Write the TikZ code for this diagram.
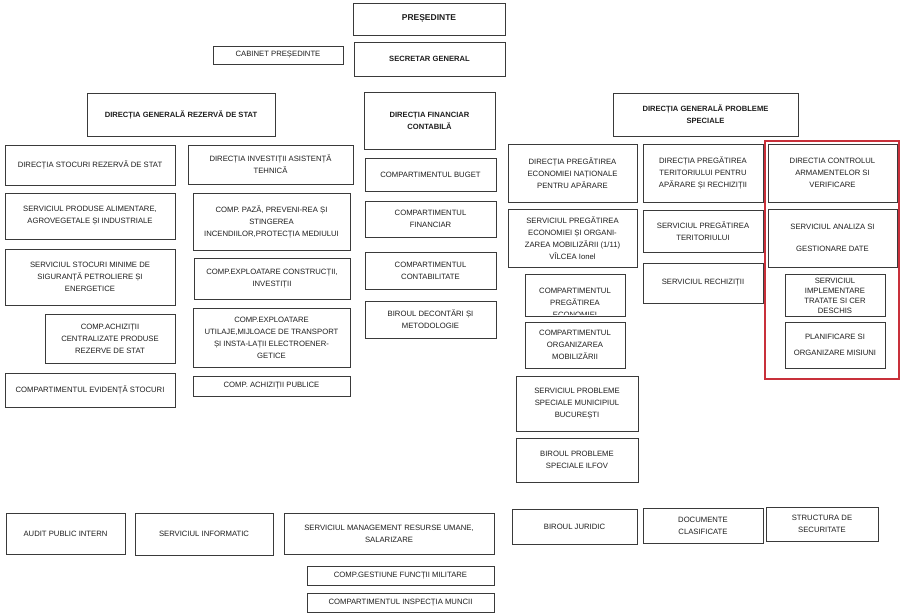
\documentclass[tikz,border=0pt]{standalone}
\usepackage{fontspec}
\setmainfont{Liberation Sans}
\definecolor{boxline}{HTML}{3A3A3A}
\definecolor{boxred}{HTML}{C8303A}
\definecolor{boxtext}{HTML}{1E1E1E}
\tikzset{
  unit/.style={draw=boxline, line width=0.9pt, inner sep=0pt, align=center,
    text=boxtext, font=\fontsize{7.7}{12}\selectfont},
  headunit/.style={unit, font=\bfseries\fontsize{7.6}{12}\selectfont}
}

\begin{document}
\begin{tikzpicture}[x=1pt,y=-1pt]
\useasboundingbox (0,0) rectangle (900,615);

% conducere
\node[headunit, minimum width=152, minimum height=32, font=\bfseries\fontsize{8.5}{12}\selectfont] (pres) at (429,19) {PREȘEDINTE};
\node[unit, minimum width=130, minimum height=18] (cab) at (278,55) {CABINET PREȘEDINTE};
\node[headunit, minimum width=151, minimum height=34] (secgen) at (429.5,59) {SECRETAR GENERAL};

% directia generala rezerva de stat
\node[headunit, minimum width=188, minimum height=43] (dgrs) at (181,114.5) {DIRECȚIA GENERALĂ REZERVĂ DE STAT};
\node[unit, minimum width=170, minimum height=40] (dsrs) at (90,165) {DIRECȚIA STOCURI REZERVĂ DE STAT};
\node[unit, minimum width=165, minimum height=39] (dinv) at (270.5,164.5) {DIRECȚIA INVESTIȚII ASISTENȚĂ\\TEHNICĂ};
\node[unit, minimum width=170, minimum height=46] (spa) at (90,216) {SERVICIUL PRODUSE ALIMENTARE,\\AGROVEGETALE ȘI INDUSTRIALE};
\node[unit, minimum width=157, minimum height=57] (cpaza) at (271.5,221.5) {COMP. PAZĂ, PREVENI-REA ȘI\\STINGEREA\\INCENDIILOR,PROTECȚIA MEDIULUI};
\node[unit, minimum width=170, minimum height=56] (ssm) at (90,277) {SERVICIUL STOCURI MINIME DE\\SIGURANȚĂ PETROLIERE ȘI\\ENERGETICE};
\node[unit, minimum width=156, minimum height=41] (cexpc) at (272,278.5) {COMP.EXPLOATARE CONSTRUCȚII,\\INVESTIȚII};
\node[unit, minimum width=130, minimum height=49] (cach) at (110,338.5) {COMP.ACHIZIȚII\\CENTRALIZATE PRODUSE\\REZERVE DE STAT};
\node[unit, minimum width=157, minimum height=59] (cexpu) at (271.5,337.5) {COMP.EXPLOATARE\\UTILAJE,MIJLOACE DE TRANSPORT\\ȘI INSTA-LAȚII ELECTROENER-\\GETICE};
\node[unit, minimum width=170, minimum height=34] (cev) at (90,390) {COMPARTIMENTUL EVIDENȚĂ STOCURI};
\node[unit, minimum width=157, minimum height=20] (cap) at (271.5,386) {COMP. ACHIZIȚII PUBLICE};

% directia financiar contabila
\node[headunit, minimum width=131, minimum height=57] (dfc) at (429.5,120.5) {DIRECȚIA FINANCIAR\\CONTABILĂ};
\node[unit, minimum width=131, minimum height=33] (cbug) at (430.5,174.5) {COMPARTIMENTUL BUGET};
\node[unit, minimum width=131, minimum height=36] (cfin) at (430.5,219) {COMPARTIMENTUL\\FINANCIAR};
\node[unit, minimum width=131, minimum height=37] (ccont) at (430.5,270.5) {COMPARTIMENTUL\\CONTABILITATE};
\node[unit, minimum width=131, minimum height=37] (bdec) at (430.5,319.5) {BIROUL DECONTĂRI ȘI\\METODOLOGIE};

% directia generala probleme speciale
\node[headunit, minimum width=185, minimum height=43] (dgps) at (705.5,114.5) {DIRECȚIA GENERALĂ PROBLEME\\SPECIALE};
\node[unit, minimum width=129, minimum height=58] (dpen) at (572.5,173) {DIRECȚIA PREGĂTIREA\\ECONOMIEI NAȚIONALE\\PENTRU APĂRARE};
\node[unit, minimum width=120, minimum height=58] (dpt) at (703,173) {DIRECȚIA PREGĂTIREA\\TERITORIULUI PENTRU\\APĂRARE ȘI RECHIZIȚII};
\node[unit, minimum width=129, minimum height=58] (spe) at (572.5,238) {SERVICIUL PREGĂTIREA\\ECONOMIEI ȘI ORGANI-\\ZAREA MOBILIZĂRII (1/11)\\VÎLCEA Ionel};
\node[unit, minimum width=120, minimum height=42] (spt) at (703,231) {SERVICIUL PREGĂTIREA\\TERITORIULUI};
\node[unit, minimum width=120, minimum height=40] (srech) at (703,283) {SERVICIUL RECHIZIȚII};
\node[unit, minimum width=100, minimum height=42] (cpe) at (575,295) {};
\begin{scope}
\clip (525,274) rectangle (625,314);
\node[unit, draw=none] (cpetext) at (575,303) {COMPARTIMENTUL\\PREGĂTIREA\\ECONOMIEI};
\end{scope}
\node[unit, minimum width=100, minimum height=46] (cor) at (575,345) {COMPARTIMENTUL\\ORGANIZAREA\\MOBILIZĂRII};
\node[unit, minimum width=122, minimum height=55] (spsm) at (577,403.5) {SERVICIUL PROBLEME\\SPECIALE MUNICIPIUL\\BUCUREȘTI};
\node[unit, minimum width=122, minimum height=44] (bpsi) at (577,460) {BIROUL PROBLEME\\SPECIALE ILFOV};

% controlul armamentelor
\node[unit, minimum width=129, minimum height=58] (dca) at (832.5,173) {DIRECTIA CONTROLUL\\ARMAMENTELOR SI\\VERIFICARE};
\node[unit, minimum width=129, minimum height=58] (sag) at (832.5,238) {SERVICIUL ANALIZA SI\\[10pt]GESTIONARE DATE};
\node[unit, minimum width=100, minimum height=42, font=\fontsize{7.7}{10}\selectfont] (sim) at (835,295.5) {SERVICIUL\\IMPLEMENTARE\\TRATATE SI CER\\DESCHIS};
\node[unit, minimum width=100, minimum height=46] (plan) at (835,345) {PLANIFICARE SI\\[4pt]ORGANIZARE MISIUNI};
\node[draw=boxred, line width=1.2pt, inner sep=0pt, minimum width=134, minimum height=238] (ctrl) at (832,260) {};

% structuri subordonate direct
\node[unit, minimum width=119, minimum height=41] (api) at (65.5,533.5) {AUDIT PUBLIC INTERN};
\node[unit, minimum width=138, minimum height=42] (sinf) at (204,534) {SERVICIUL INFORMATIC};
\node[unit, minimum width=210, minimum height=41] (smru) at (389,533.5) {SERVICIUL MANAGEMENT RESURSE UMANE,\\SALARIZARE};
\node[unit, minimum width=187, minimum height=19] (cgfm) at (400.5,575.5) {COMP.GESTIUNE FUNCȚII MILITARE};
\node[unit, minimum width=187, minimum height=19] (cim) at (400.5,602.5) {COMPARTIMENTUL INSPECȚIA MUNCII};
\node[unit, minimum width=125, minimum height=35] (bjur) at (574.5,526.5) {BIROUL JURIDIC};
\node[unit, minimum width=120, minimum height=35] (doc) at (703,525.5) {DOCUMENTE\\CLASIFICATE};
\node[unit, minimum width=112, minimum height=34] (struct) at (822,524) {STRUCTURA DE\\SECURITATE};

\end{tikzpicture}
\end{document}
